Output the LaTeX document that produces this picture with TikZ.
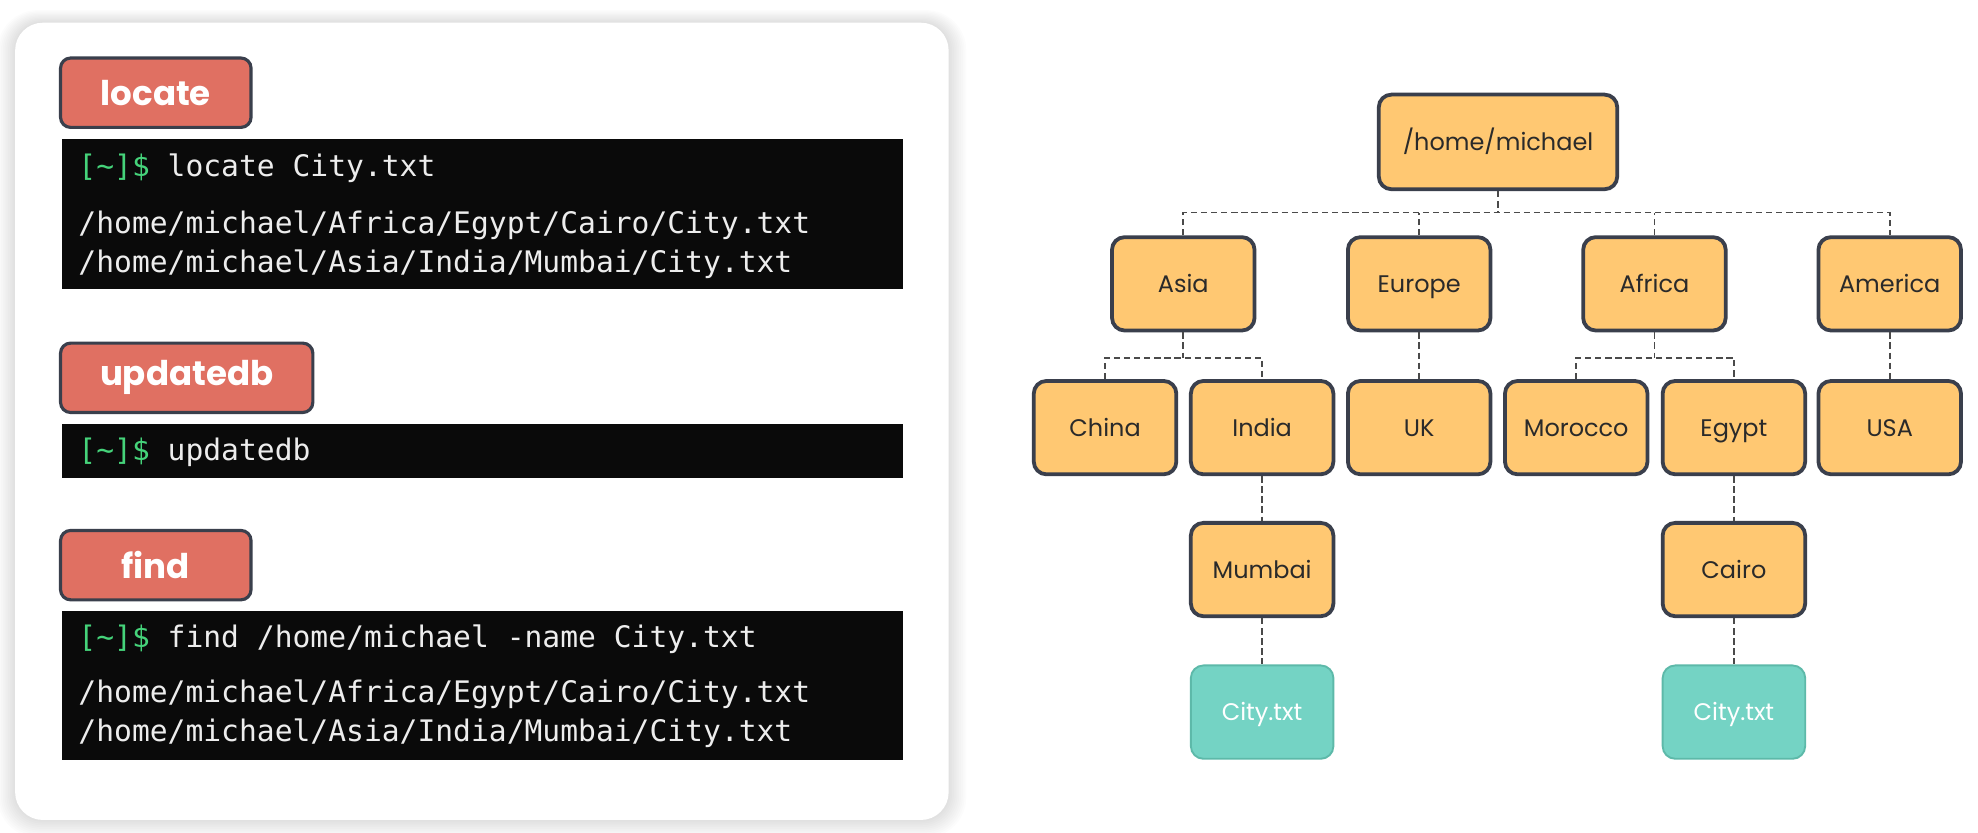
\documentclass[tikz,border=0pt]{standalone}
\usepackage{fontspec}
\setmainfont{Poppins}
\newfontfamily\termfont{DejaVu Sans Mono}
\definecolor{boxfill}{HTML}{FFC872}
\definecolor{boxline}{HTML}{3A3F4C}
\definecolor{filefill}{HTML}{74D3C4}
\definecolor{fileline}{HTML}{5DB9A9}
\definecolor{badgefill}{HTML}{E07062}
\definecolor{termbg}{HTML}{0A0A0A}
\definecolor{promptgreen}{HTML}{45D37A}
\definecolor{termtext}{HTML}{EDEDED}
\definecolor{dashgray}{HTML}{4A4A4A}
\definecolor{labeltext}{HTML}{2A2A2A}
\tikzset{
  badge/.style={rectangle, rounded corners=8pt, fill=badgefill, draw=boxline, line width=2.5pt,
    text=white, font=\bfseries\fontsize{27}{27}\selectfont, minimum height=55pt, inner sep=0pt},
  terminal/.style={rectangle, fill=termbg, minimum width=667pt, anchor=north west, inner sep=0pt},
  termline/.style={anchor=base west, inner sep=0pt, text=termtext, font=\termfont\fontsize{23.5}{23.5}\selectfont},
  tnode/.style={rectangle, rounded corners=10pt, fill=boxfill, draw=boxline, line width=3pt,
    minimum width=113pt, minimum height=74pt, inner sep=0pt, text height=13.5pt, text depth=0pt,
    text=labeltext, font=\fontsize{19}{19}\selectfont},
  fnode/.style={tnode, fill=filefill, draw=fileline, line width=1.5pt, text=white},
  conn/.style={draw=dashgray, line width=1.4pt, dash pattern=on 5pt off 3pt},
}
\newcommand{\pr}{\textcolor{promptgreen}{[\char`\~]\$}}
\begin{document}
\begin{tikzpicture}[x=1pt,y=-1pt]
\path[use as bounding box, fill=white] (0,0) rectangle (1568,660);
% soft shadow around panel
\foreach \i in {1,...,10} {
  \fill[black, opacity=0.011, rounded corners={22pt+\i pt}] (12-1.4*\i,18-1.0*\i) rectangle (752+1.4*\i,650+1.4*\i);
}
\fill[white, rounded corners=22pt] (12,18) rectangle (752,650);

% badges
\node[badge, minimum width=151pt] (blocate) at (123.5,73.5) {locate};
\node[badge, minimum width=200pt] (bupdatedb) at (148,299.5) {updatedb};
\node[badge, minimum width=151pt] (bfind) at (123.5,448) {find};

% terminals
\node[terminal, minimum height=119pt] (t1) at (49,110) {};
\node[terminal, minimum height=43pt] (t2) at (49,336) {};
\node[terminal, minimum height=118pt] (t3) at (49,484) {};

\node[termline] (t1a) at (62,140) {\pr\ locate City.txt};
\node[termline] (t1b) at (62,185) {/home/michael/Africa/Egypt/Cairo/City.txt};
\node[termline] (t1c) at (62,216) {/home/michael/Asia/India/Mumbai/City.txt};

\node[termline] (t2a) at (62,365) {\pr\ updatedb};

\node[termline] (t3a) at (62,513) {\pr\ find /home/michael -name City.txt};
\node[termline] (t3b) at (62,557) {/home/michael/Africa/Egypt/Cairo/City.txt};
\node[termline] (t3c) at (62,588) {/home/michael/Asia/India/Mumbai/City.txt};

% tree
\node[tnode, minimum width=189pt, minimum height=75pt] (root) at (1187.5,112.5) {/home/michael};
\node[tnode] (asia) at (938,225) {Asia};
\node[tnode] (europe) at (1125,225) {Europe};
\node[tnode] (africa) at (1311.5,225) {Africa};
\node[tnode] (america) at (1498,225) {America};
\node[tnode] (china) at (876,339) {China};
\node[tnode] (india) at (1000.5,339) {India};
\node[tnode] (uk) at (1125,339) {UK};
\node[tnode] (morocco) at (1249.5,339) {Morocco};
\node[tnode] (egypt) at (1374.5,339) {Egypt};
\node[tnode] (usa) at (1498,339) {USA};
\node[tnode] (mumbai) at (1000.5,451.5) {Mumbai};
\node[tnode] (cairo) at (1374.5,451.5) {Cairo};
\node[fnode] (city1) at (1000.5,564.5) {City.txt};
\node[fnode] (city2) at (1374.5,564.5) {City.txt};

% connectors
\path (root.south) ++(0,17) coordinate (rh);
\draw[conn] (root.south) -- (rh);
\draw[conn] (asia.north) |- (america.north |- rh) -- (america.north);
\draw[conn] (europe.north) -- (europe.north |- rh);
\draw[conn] (africa.north) -- (africa.north |- rh);

\path (asia.south) ++(0,20) coordinate (ah);
\draw[conn] (asia.south) -- (ah);
\draw[conn] (china.north) |- (india.north |- ah) -- (india.north);

\path (africa.south) ++(0,20) coordinate (fh);
\draw[conn] (africa.south) -- (fh);
\draw[conn] (morocco.north) |- (egypt.north |- fh) -- (egypt.north);

\draw[conn] (europe.south) -- (uk.north);
\draw[conn] (america.south) -- (usa.north);
\draw[conn] (india.south) -- (mumbai.north);
\draw[conn] (mumbai.south) -- (city1.north);
\draw[conn] (egypt.south) -- (cairo.north);
\draw[conn] (cairo.south) -- (city2.north);
\end{tikzpicture}
\end{document}
